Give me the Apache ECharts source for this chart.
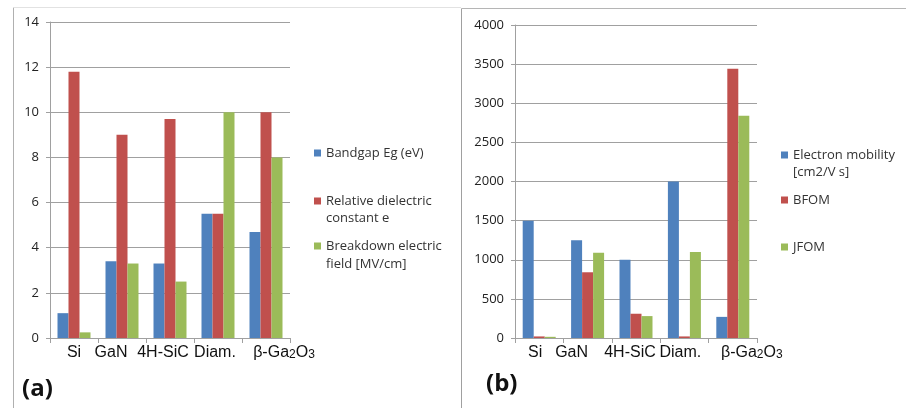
<!DOCTYPE html>
<html>
<head>
<meta charset="utf-8">
<script src="https://cdn.jsdelivr.net/npm/echarts@6/dist/echarts.min.js"></script>
<style>
html,body{margin:0;padding:0;background:#fff;}
#c{width:906px;height:408px;}
</style>
</head>
<body>
<div id="c"></div>
<script>
// ---- data ----
const categories = ['Si', 'GaN', '4H-SiC', 'Diam.', 'β-Ga2O3'];

const namesA = ['Bandgap Eg (eV)', 'Relative dielectric\nconstant e', 'Breakdown electric\nfield [MV/cm]'];
const bandgap = [1.1, 3.4, 3.3, 5.5, 4.7];
const dielectric = [11.8, 9.0, 9.7, 5.5, 10.0];
const breakdown = [0.25, 3.3, 2.5, 10.0, 8.0];
const ticksA = { min: 0, max: 14, interval: 2 };

const namesB = ['Electron mobility\n[cm2/V s]', 'BFOM', 'JFOM'];
const mobility = [1500, 1250, 1000, 2000, 270];
const bfom = [20, 840, 310, 20, 3440];
const jfom = [15, 1090, 280, 1100, 2840];
const ticksB = { min: 0, max: 4000, interval: 500 };

const panelLabels = ['(a)', '(b)'];

// ---- styles ----
const colors = ['#4F81BD', '#C0504D', '#9BBB59'];
const labelShiftA = [0, -11, -7, -3, 18];
const labelShiftB = [-4, -16, -6, -4, 19];
const gridColor = '#a0a0a0';
const catFont = '"Liberation Sans", Arial, sans-serif';
const uiFont = '"Open Sans", "Noto Sans", sans-serif';
const catSize = 16;

function richFor(shift) {
  const r = {};
  shift.forEach((s, i) => {
    const padL = s > 0 ? 2 * s : 0;
    const padR = s < 0 ? -2 * s : 0;
    const base = { fontFamily: catFont, fontSize: catSize, color: '#111' };
    const sub = { fontFamily: catFont, fontSize: 12, color: '#111', verticalAlign: 'bottom', lineHeight: catSize };
    r['a' + i] = Object.assign({}, base, { padding: [0, padR, 0, padL] }); // whole label
    r['f' + i] = Object.assign({}, base, { padding: [0, 0, 0, padL] });    // first piece
    r['m' + i] = Object.assign({}, base);                                // middle piece
    r['s' + i] = Object.assign({}, sub);                                 // subscript
    r['l' + i] = Object.assign({}, sub, { padding: [0, padR, 0, 0] });   // last subscript
  });
  return r;
}
function catFormatter(v, i) {
  const m = v.match(/^(.*?)(\d)(\D*)(\d)$/);
  if (m) {
    return '{f' + i + '|' + m[1] + '}{s' + i + '|' + m[2] + '}{m' + i + '|' + m[3] + '}{l' + i + '|' + m[4] + '}';
  }
  return '{a' + i + '|' + v + '}';
}

function xAxisFor(gi, shift) {
  return {
    type: 'category', gridIndex: gi, data: categories,
    axisLine: { lineStyle: { color: gridColor, width: 1 } },
    axisTick: { show: true, length: 5, lineStyle: { color: gridColor } },
    axisLabel: {
      margin: 7, interval: 0,
      formatter: function (v, i) { return catFormatter(v, i); },
      rich: richFor(shift)
    }
  };
}
function yAxisFor(gi, t) {
  return {
    type: 'value', gridIndex: gi, min: t.min, max: t.max, interval: t.interval,
    axisLine: { show: true, lineStyle: { color: gridColor } },
    axisTick: { show: true, length: 4, lineStyle: { color: gridColor } },
    splitLine: { lineStyle: { color: gridColor } },
    axisLabel: { margin: 11, fontFamily: uiFont, fontSize: 13, color: '#222', formatter: function (v) { return String(v); } }
  };
}
const legendText = { fontFamily: uiFont, fontSize: 13, color: '#333', lineHeight: 17 };
function legendFor(name, left, top) {
  return {
    data: [name], left: left, top: top, orient: 'vertical', padding: 0,
    itemWidth: 7, itemHeight: 7, icon: 'rect', selectedMode: false,
    formatter: function (n) { return n.split('\n')[0]; },
    textStyle: legendText
  };
}
function secondLine(name, x, y) {
  return {
    type: 'text', x: x, y: y,
    style: { text: name.split('\n')[1], fontFamily: uiFont, fontSize: 13, fill: '#333', verticalAlign: 'middle' }
  };
}
function bars(name, data, ci, gi) {
  return {
    type: 'bar', name: name, data: data, xAxisIndex: gi, yAxisIndex: gi,
    barWidth: 11, barGap: '0%', itemStyle: { color: colors[ci] }
  };
}

const chart = echarts.init(document.getElementById('c'), null, { renderer: 'canvas' });
chart.setOption({
  animation: false,
  backgroundColor: '#fff',
  grid: [
    { left: 50, top: 22, width: 240, height: 316 },
    { left: 515, top: 25, width: 242, height: 313 }
  ],
  xAxis: [xAxisFor(0, labelShiftA), xAxisFor(1, labelShiftB)],
  yAxis: [yAxisFor(0, ticksA), yAxisFor(1, ticksB)],
  legend: [
    legendFor(namesA[0], 314, 144.5),
    legendFor(namesA[1], 314, 192.5),
    legendFor(namesA[2], 314, 237.5),
    legendFor(namesB[0], 781, 146.5),
    legendFor(namesB[1], 781, 191.5),
    legendFor(namesB[2], 781, 238.5)
  ],
  series: [
    bars(namesA[0], bandgap, 0, 0),
    bars(namesA[1], dielectric, 1, 0),
    bars(namesA[2], breakdown, 2, 0),
    bars(namesB[0], mobility, 0, 1),
    bars(namesB[1], bfom, 1, 1),
    bars(namesB[2], jfom, 2, 1)
  ],
  graphic: [
    { type: 'line', shape: { x1: 13.5, y1: 7.5, x2: 13.5, y2: 408 }, style: { stroke: '#b0b0b0', lineWidth: 1 } },
    { type: 'line', shape: { x1: 13.5, y1: 7.5, x2: 461, y2: 7.5 }, style: { stroke: '#e2e2e2', lineWidth: 1 } },
    { type: 'line', shape: { x1: 461.5, y1: 8.5, x2: 461.5, y2: 408 }, style: { stroke: '#a0a0a0', lineWidth: 1 } },
    { type: 'line', shape: { x1: 461.5, y1: 8.5, x2: 906, y2: 8.5 }, style: { stroke: '#b5b5b5', lineWidth: 1 } },
    secondLine(namesA[1], 326, 218),
    secondLine(namesA[2], 326, 264),
    secondLine(namesB[0], 793, 172),
    { type: 'text', left: 22, top: 377, style: { text: panelLabels[0], fontFamily: uiFont, fontWeight: 'bold', fontSize: 24, fill: '#111' } },
    { type: 'text', left: 486, top: 372, style: { text: panelLabels[1], fontFamily: uiFont, fontWeight: 'bold', fontSize: 24, fill: '#111' } }
  ]
});
</script>
</body>
</html>
